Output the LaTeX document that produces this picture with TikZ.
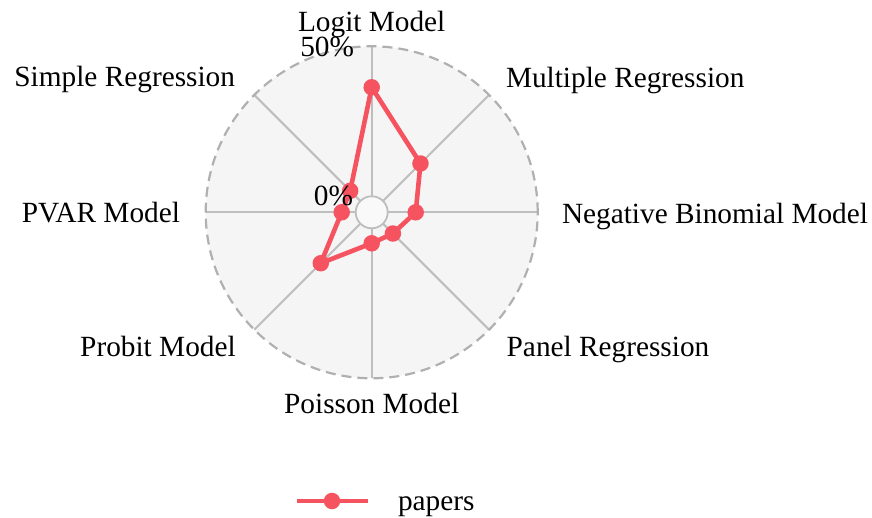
\documentclass[tikz,border=0pt]{standalone}
\usepackage{fontspec}
\setmainfont{Liberation Serif}
\definecolor{seriesred}{RGB}{245,83,95}
\definecolor{panelbg}{RGB}{245,245,245}
\definecolor{spokegray}{RGB}{190,190,190}
\definecolor{rimgray}{RGB}{176,176,176}
\begin{document}
\begin{tikzpicture}[x=1pt,y=1pt,
  lbl/.style={inner sep=0pt,outer sep=0pt,font=\fontsize{29.3}{34}\selectfont,text=black},
  spoke/.style={draw=spokegray,line width=2pt},
  series/.style={draw=seriesred,line width=4.6pt,line join=round},
  dot/.style={circle,fill=seriesred,inner sep=0pt,minimum size=16.5pt}]
\useasboundingbox (-371.7,-305.7) rectangle (500.3,212.3);
% background disc
\fill[panelbg] (0,0) circle (166);
% spokes
\foreach \a in {0,45,...,315}
  \draw[spoke] (\a:16) -- (\a:166);
% inner circle
\draw[spokegray,line width=1.8pt,fill=panelbg!60!white] (0,0) circle (16);
% outer dashed rim
\draw[rimgray,line width=2.2pt,dash pattern=on 10pt off 6pt] (0,0) circle (166);
% data points
\coordinate (pLogit) at (90:125);
\coordinate (pMult) at (45:69);
\coordinate (pNB) at (0:44);
\coordinate (pPanel) at (-45:30);
\coordinate (pPois) at (-90:31);
\coordinate (pProb) at (225:72);
\coordinate (pPVAR) at (180:30);
\coordinate (pSimp) at (135:30.4);
\draw[series] (pLogit) -- (pMult) -- (pNB) -- (pPanel) -- (pPois) -- (pProb) -- (pPVAR) -- (pSimp) -- cycle;
\foreach \p in {pLogit,pMult,pNB,pPanel,pPois,pProb,pPVAR,pSimp}
  \node[dot] at (\p) {};
% axis labels
\node[lbl,anchor=base] (tLogit) at (0,180.3) {Logit Model};
\node[lbl,anchor=base east] (t50) at (-17.7,155.3) {50\%};
\node[lbl,anchor=base east] (t0) at (-18.7,6.6) {0\%};
\node[lbl,anchor=base east] (tSimp) at (-136.7,125.6) {Simple Regression};
\node[lbl,anchor=base west] (tMult) at (134.3,125) {Multiple Regression};
\node[lbl,anchor=base east] (tPVAR) at (-191.7,-10) {PVAR Model};
\node[lbl,anchor=base west] (tNB) at (190.3,-11) {Negative Binomial Model};
\node[lbl,anchor=base east] (tProb) at (-136,-144.4) {Probit Model};
\node[lbl,anchor=base west] (tPanel) at (135,-144.4) {Panel Regression};
\node[lbl,anchor=base] (tPois) at (0,-201) {Poisson Model};
% legend
\coordinate (legA) at (-74.7,-288.7);
\coordinate (legB) at (-3.7,-288.7);
\draw[series] (legA) -- (legB);
\node[dot] (legDot) at (-39.7,-288.7) {};
\node[lbl,anchor=base west] (legTxt) at (26.3,-297.7) {papers};
\end{tikzpicture}
\end{document}
